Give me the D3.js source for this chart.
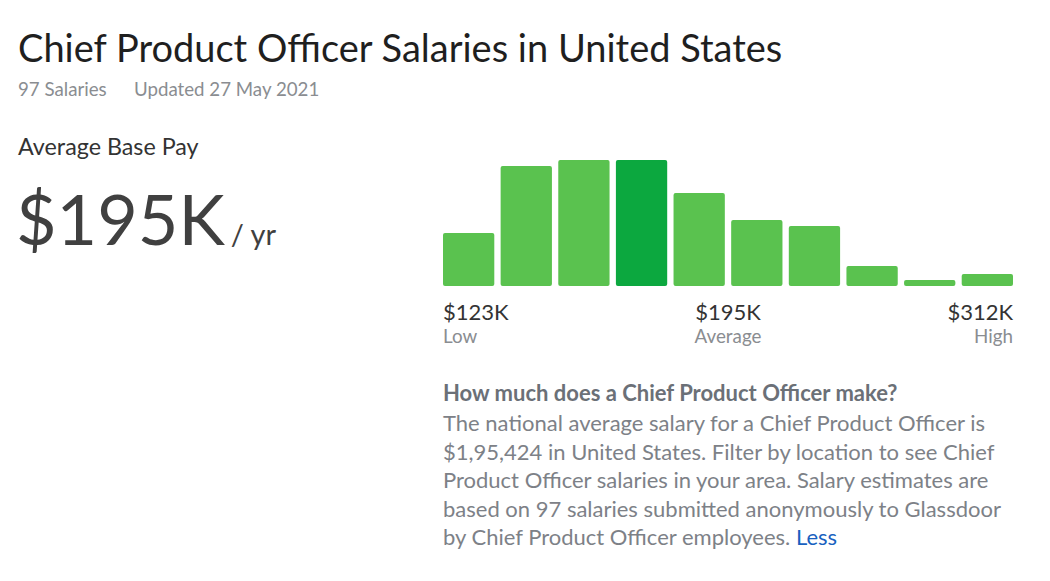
<!DOCTYPE html>
<html>
<head>
<meta charset="utf-8">
<script src="https://cdn.jsdelivr.net/npm/d3@7"></script>
<style>
  body { margin: 0; background: #fff; }
  svg { display: block; font-family: Lato, "Noto Sans", sans-serif; }
</style>
</head>
<body>
<div id="main"></div>
<script>
// Data
const bins = ['b1', 'b2', 'b3', 'b4', 'b5', 'b6', 'b7', 'b8', 'b9', 'b10'];
const counts = [53, 120, 126, 126, 93, 66, 60, 20, 6, 12];
const highlightBin = 'b4';
const rangeLabels = ['$123K', '$195K', '$312K'];
const rangeNames = ['Low', 'Average', 'High'];
const aboutLines = [
    'The national average salary for a Chief Product Officer is',
    '$1,95,424 in United States. Filter by location to see Chief',
    'Product Officer salaries in your area. Salary estimates are',
    'based on 97 salaries submitted anonymously to Glassdoor',
    'by Chief Product Officer employees.'
];

const w = 1050;
const h = 581;

const svg = d3.select('#main')
    .append('svg')
    .attr('width', w)
    .attr('height', h);

// Header
svg.append('text')
    .attr('x', 18).attr('y', 62)
    .style('font-size', '38px')
    .style('fill', '#1f1f1f')
    .text('Chief Product Officer Salaries in United States');

svg.append('text')
    .attr('x', 18).attr('y', 96)
    .style('font-size', '18.7px')
    .style('fill', '#8a8d91')
    .text('97 Salaries');

svg.append('text')
    .attr('x', 134).attr('y', 96)
    .style('font-size', '18.7px')
    .style('fill', '#8a8d91')
    .text('Updated 27 May 2021');

// Left block
svg.append('text')
    .attr('x', 18).attr('y', 155)
    .style('font-size', '23.3px')
    .style('fill', '#333')
    .text('Average Base Pay');

const big = svg.append('text')
    .attr('x', 16).attr('y', 245)
    .style('fill', '#404040');
big.append('tspan').style('font-size', '70px').text('$195K');
big.append('tspan').attr('dx', 6).style('font-size', '29px').text('/ yr');

// Histogram
const xScale = d3.scaleBand()
    .domain(bins)
    .range([443, 1013])
    .paddingInner(0.11);

const yScale = d3.scaleLinear()
    .domain([0, d3.max(counts)])
    .range([286, 160]);

svg.selectAll('rect.bar')
    .data(bins)
    .enter()
    .append('rect')
    .attr('class', 'bar')
    .attr('x', (d) => xScale(d))
    .attr('y', (d, i) => yScale(counts[i]))
    .attr('width', xScale.bandwidth())
    .attr('height', (d, i) => yScale(0) - yScale(counts[i]))
    .attr('rx', 2)
    .style('fill', (d) => (d == highlightBin ? '#0ca83f' : '#5ac24f'));

// Range labels
const gap = xScale.step() - xScale.bandwidth();
const labelX = [xScale(bins[0]), xScale(bins[5]) - gap / 2, xScale(bins[9]) + xScale.bandwidth()];
const anchors = ['start', 'middle', 'end'];

rangeLabels.forEach((t, i) => {
    svg.append('text')
        .attr('x', labelX[i]).attr('y', 320)
        .attr('text-anchor', anchors[i])
        .style('font-size', '22px')
        .style('fill', '#333')
        .text(t);
    svg.append('text')
        .attr('x', labelX[i]).attr('y', 343)
        .attr('text-anchor', anchors[i])
        .style('font-size', '18.8px')
        .style('fill', '#8a8d91')
        .text(rangeNames[i]);
});

// Description
svg.append('text')
    .attr('x', 443).attr('y', 401)
    .style('font-size', '22px')
    .style('font-weight', 'bold')
    .style('fill', '#6b7077')
    .text('How much does a Chief Product Officer make?');

aboutLines.forEach((t, i) => {
    const line = svg.append('text')
        .attr('x', 443).attr('y', 431 + i * 28.5)
        .style('font-size', '22px')
        .style('fill', '#7d8187')
        .text(t);
    if (i == aboutLines.length - 1) {
        line.append('tspan').style('fill', '#1861bf').text(' Less');
    }
});
</script>
</body>
</html>
